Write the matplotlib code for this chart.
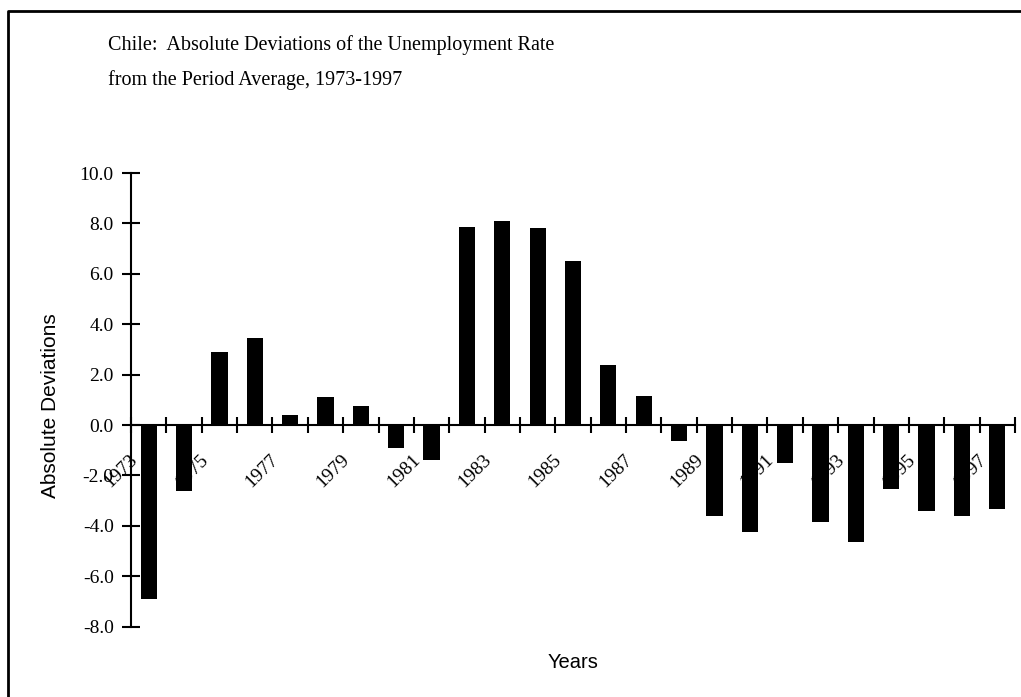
import matplotlib
matplotlib.use("Agg")
import matplotlib.pyplot as plt
import matplotlib.transforms as mtransforms
from matplotlib.lines import Line2D

years = list(range(1973, 1998))
deviations = [-6.9, -2.6, 2.9, 3.45, 0.4, 1.1, 0.75, -0.9, -1.4, 7.85,
              8.1, 7.8, 6.5, 2.4, 1.15, -0.65, -3.6, -4.25, -1.5, -3.85,
              -4.65, -2.55, -3.4, -3.6, -3.35]
label_years = [str(y) for y in years if y % 2 == 1]
y_ticks = [-8.0, -6.0, -4.0, -2.0, 0.0, 2.0, 4.0, 6.0, 8.0, 10.0]
title_lines = ["Chile:  Absolute Deviations of the Unemployment Rate",
               "from the Period Average, 1973-1997"]

W, H = 1021, 697
fig = plt.figure(figsize=(W / 100, H / 100), dpi=100)
fig.patch.set_facecolor("white")

# axes placement (pixels)
x0, x1 = 131, 1015
ytop, ybot = 173, 626.6
ax = fig.add_axes([x0 / W, (H - ybot) / H, (x1 - x0) / W, (ybot - ytop) / H])
ax.set_facecolor("none")

xs = list(range(len(years)))
ax.bar(xs, deviations, width=0.46, color="black", zorder=3)

ax.set_xlim(-0.5, len(years) - 0.5)
ax.set_ylim(-8, 10)

for s in ["top", "right"]:
    ax.spines[s].set_visible(False)
ax.spines["bottom"].set_position(("data", 0))
ax.spines["left"].set_linewidth(1.5)
ax.spines["bottom"].set_linewidth(1.5)
ax.spines["left"].set_zorder(4)
ax.spines["bottom"].set_zorder(4)

ax.set_yticks(y_ticks)
ax.set_yticklabels([f"{v:.1f}" for v in y_ticks], family="Liberation Serif", fontsize=14)
ax.tick_params(axis="y", direction="inout", length=13, width=1.5, pad=6)

ax.set_xticks([i - 0.5 for i in range(len(years) + 1)])
ax.set_xticklabels([])
ax.tick_params(axis="x", direction="inout", length=11, width=1.5)

# rotated year labels at odd years
offset = mtransforms.ScaledTranslation(-14 / 100, -32 / 100, fig.dpi_scale_trans)
for i, y in enumerate(years):
    if str(y) in label_years:
        ax.text(i, 0, str(y), transform=ax.transData + offset, rotation=45,
                rotation_mode="anchor", ha="right", va="center",
                family="Liberation Serif", fontsize=14, zorder=1)

fig.text(108 / W, 1 - 45 / H, title_lines[0], family="Liberation Serif",
         fontsize=14.5, ha="left", va="center")
fig.text(108 / W, 1 - 80 / H, title_lines[1], family="Liberation Serif",
         fontsize=14.5, ha="left", va="center")

fig.text(50 / W, 1 - 406 / H, "Absolute Deviations", rotation=90,
         family="Liberation Sans", fontsize=15, ha="center", va="center")
fig.text(573 / W, 1 - 662 / H, "Years", family="Liberation Sans",
         fontsize=14.5, ha="center", va="center")

# outer border (left and top only)
fig.add_artist(Line2D([8 / W, 8 / W, 1.0], [0.0, 1 - 11 / H, 1 - 11 / H],
                      transform=fig.transFigure, color="black", linewidth=2))

fig.savefig("out.png", dpi=100, facecolor="white")
